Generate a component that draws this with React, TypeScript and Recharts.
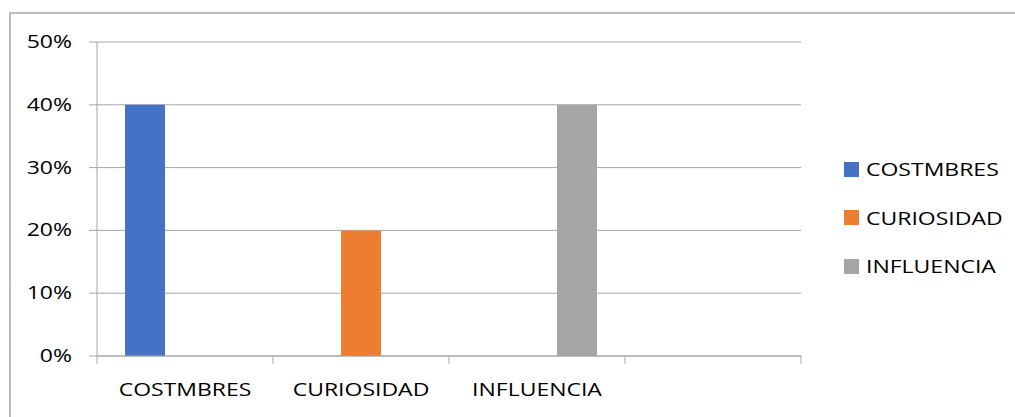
import React from "react";
import { BarChart, Bar, XAxis, YAxis, CartesianGrid, Legend } from "recharts";

const categories = ["COSTMBRES", "CURIOSIDAD", "INFLUENCIA", ""];
const costmbres = [0.4, null, null, null];
const curiosidad = [null, 0.2, null, null];
const influencia = [null, null, 0.4, null];
const yTicks = [0, 0.1, 0.2, 0.3, 0.4, 0.5];

const series = [
  { key: "COSTMBRES", color: "#4472C4" },
  { key: "CURIOSIDAD", color: "#ED7D31" },
  { key: "INFLUENCIA", color: "#A5A5A5" },
];

const data = categories.map((name, i) => ({
  name,
  COSTMBRES: costmbres[i],
  CURIOSIDAD: curiosidad[i],
  INFLUENCIA: influencia[i],
}));

const W = 1015;
const H = 417;
const Y_W = 97;
const M_RIGHT = 214;
const M_TOP = 42;
const X_H = 40;
const M_BOTTOM = 21;
const PLOT_BOTTOM = H - X_H - M_BOTTOM;
const BAND = (W - Y_W - M_RIGHT) / categories.length;
const LINE = "#a6a6a6";
const FONT = "'Open Sans', sans-serif";
const FS = 19;
const SX = 1.21;

const pct = (v: number) => `${Math.round(v * 100)}%`;

function XTick(props: any) {
  const { x, payload, index } = props;
  const left = x - BAND / 2;
  return (
    <g>
      <line x1={left} x2={left} y1={PLOT_BOTTOM} y2={PLOT_BOTTOM + 8} stroke={LINE} />
      {index === categories.length - 1 && (
        <line x1={x + BAND / 2} x2={x + BAND / 2} y1={PLOT_BOTTOM} y2={PLOT_BOTTOM + 8} stroke={LINE} />
      )}
      <g transform={`translate(${x},${PLOT_BOTTOM + 35}) scale(${SX},1)`}>
        <text textAnchor="middle" dominantBaseline="middle" fill="#000" fontSize={FS} fontFamily={FONT}>
          {payload.value}
        </text>
      </g>
    </g>
  );
}

function YTick(props: any) {
  const { x, y, payload } = props;
  return (
    <g transform={`translate(${x},${y + 1}) scale(${SX},1)`}>
      <text textAnchor="end" dominantBaseline="middle" fill="#000" fontSize={FS} fontFamily={FONT}>
        {pct(payload.value)}
      </text>
    </g>
  );
}

function LegendBox() {
  return (
    <div style={{ fontFamily: FONT, fontSize: FS, color: "#000" }}>
      {series.map((s) => (
        <div key={s.key} style={{ height: 48.5, display: "flex", alignItems: "center" }}>
          <span style={{ width: 15, height: 15, background: s.color, marginRight: 7 }} />
          <span style={{ display: "inline-block", transform: `scaleX(${SX})`, transformOrigin: "left center" }}>
            {s.key}
          </span>
        </div>
      ))}
    </div>
  );
}

export default function App() {
  return (
    <div style={{ position: "fixed", left: 0, top: 0, width: W, height: H, background: "#fff", overflow: "hidden" }}>
      <div
        style={{
          position: "absolute",
          left: 9,
          top: 12,
          width: W + 20,
          height: H + 20,
          borderLeft: "2px solid #bcbcbc",
          borderTop: "2px solid #bcbcbc",
          boxSizing: "border-box",
        }}
      />
      <div style={{ position: "absolute", left: 0, top: 0 }}>
        <BarChart
          width={W}
          height={H}
          data={data}
          margin={{ top: M_TOP, right: M_RIGHT, left: 0, bottom: M_BOTTOM }}
          barGap={0}
          barCategoryGap={28}
        >
          <CartesianGrid vertical={false} stroke={LINE} />
          <XAxis
            dataKey="name"
            height={X_H}
            axisLine={{ stroke: LINE }}
            tickLine={false}
            tick={<XTick />}
            interval={0}
          />
          <YAxis
            width={Y_W}
            domain={[0, 0.5]}
            ticks={yTicks}
            axisLine={{ stroke: LINE }}
            tickLine={{ stroke: LINE }}
            tickSize={8}
            tickMargin={17}
            tick={<YTick />}
            interval={0}
          />
          <Legend
            layout="horizontal"
            verticalAlign="middle"
            align="center"
            content={<LegendBox />}
            wrapperStyle={{ left: 844, top: 145, width: 170 }}
          />
          {series.map((s) => (
            <Bar key={s.key} dataKey={s.key} fill={s.color} isAnimationActive={false} />
          ))}
        </BarChart>
      </div>
    </div>
  );
}
